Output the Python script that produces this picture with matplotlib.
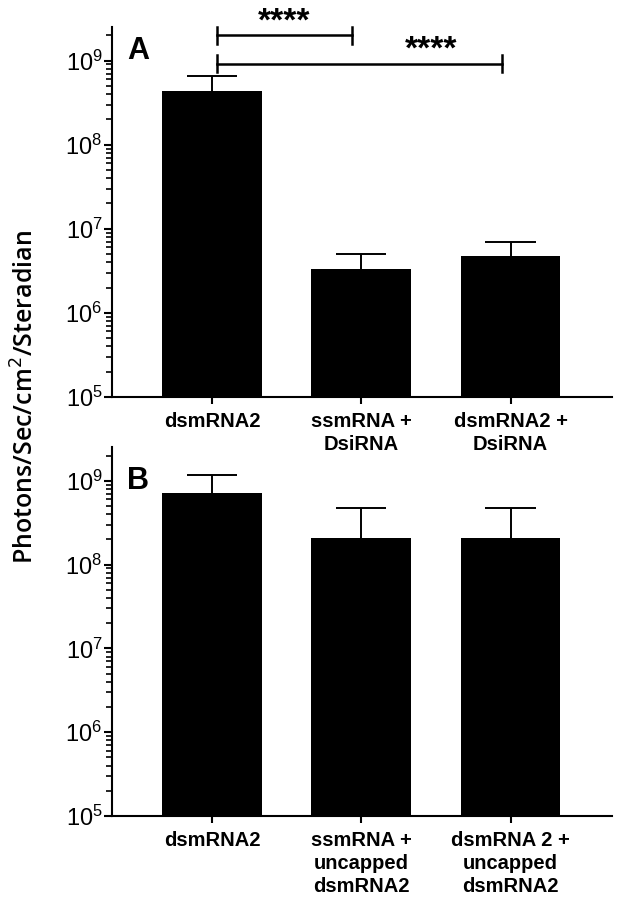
import numpy as np
import matplotlib
matplotlib.use("Agg")
import matplotlib.pyplot as plt
from matplotlib.ticker import FuncFormatter, NullFormatter

# datos (media y error superior)
grupos_a = ["dsmRNA2", "ssmRNA +\nDsiRNA", "dsmRNA2 +\nDsiRNA"]
medias_a = [4.3e8, 3.3e6, 4.8e6]
error_a = [2.3e8, 1.7e6, 2.1e6]

grupos_b = ["dsmRNA2", "ssmRNA +\nuncapped\ndsmRNA2", "dsmRNA 2 +\nuncapped\ndsmRNA2"]
medias_b = [7.2e8, 2.05e8, 2.05e8]
error_b = [4.6e8, 2.75e8, 2.75e8]

# comparaciones significativas del panel A: (inicio, fin, altura, texto)
comparaciones = [(0, 1, 2.0e9, "****"), (0, 2, 9.2e8, "****")]

plt.rcParams['font.family'] = ['Liberation Sans', 'DejaVu Sans']

fig = plt.figure(figsize=(6.2, 9), dpi=100)
ax_a = fig.add_axes([0.181, 0.559, 0.806, 0.411])
ax_b = fig.add_axes([0.181, 0.0933, 0.806, 0.4097])
ax_b.patch.set_alpha(0)

# marcas del eje logaritmico
mayores = [10.0**e for e in range(5, 10)]
menores = [m * 10.0**e for e in range(5, 10) for m in range(2, 10)]


def formato_pot(v, pos):
    e = int(round(np.log10(v)))
    return r'$\mathregular{10^{%d}}$' % e


def dibujar_panel(ax, grupos, medias, errores, letra, y_letra):
    x = np.arange(len(grupos))
    medias = np.array(medias)
    errores = np.array(errores)
    ax.set_yscale('log')
    ax.bar(x, medias, width=0.67, color='black', zorder=3)
    # barra de error solo hacia arriba
    ax.vlines(x, medias, medias + errores, color='black', lw=1.4, zorder=2)
    ax.hlines(medias + errores, x - 0.168, x + 0.168, color='black', lw=1.4, zorder=2)
    ax.set_xticks(x)
    ax.set_xticklabels(grupos, fontsize=14.5, fontweight='bold', linespacing=1.25)
    ax.tick_params(axis='x', length=5, width=1.5, pad=6)
    for lado in ['top', 'right']:
        ax.spines[lado].set_visible(False)
    for lado in ['left', 'bottom']:
        ax.spines[lado].set_linewidth(1.5)
    # eje y: marcas mayores y menores
    ax.set_yticks(mayores)
    ax.set_yticks(menores, minor=True)
    ax.yaxis.set_major_formatter(FuncFormatter(formato_pot))
    ax.yaxis.set_minor_formatter(NullFormatter())
    ax.yaxis.set_tick_params(which='major', length=6, width=1.5, labelsize=17, pad=1)
    ax.yaxis.set_tick_params(which='minor', length=4.5, width=1.2)
    # limites despues de las marcas para que no se amplien
    ax.set_ylim(1e5, 10**9.4)
    ax.set_xlim(-0.67, 2.68)
    ax.text(-0.57, y_letra, letra, fontsize=22, fontweight='bold', va='center', ha='left')


dibujar_panel(ax_a, grupos_a, medias_a, error_a, "A", 10**9.12)
dibujar_panel(ax_b, grupos_b, medias_b, error_b, "B", 10**9.0)

# corchetes de significancia
for ini, fin, altura, texto in comparaciones:
    x0 = ini + 0.03
    x1 = fin - 0.06
    ax_a.plot([x0, x1], [altura, altura], color='black', lw=1.8, clip_on=False)
    for xx in (x0, x1):
        ax_a.plot([xx, xx], [altura / 1.27, altura * 1.27], color='black', lw=1.8, clip_on=False)
    ax_a.text((x0 + x1) / 2 if fin == 1 else x1 - 0.47, altura * 1.45, texto,
              fontsize=24, fontweight='bold', ha='center', va='center', clip_on=False)

fig.text(0.042, 0.559, "Photons/Sec/cm$^2$/Steradian", rotation=90, fontsize=18,
         fontweight='semibold', va='center', ha='center', family=['Open Sans', 'DejaVu Sans'])

fig.savefig("out.png", dpi=100)
